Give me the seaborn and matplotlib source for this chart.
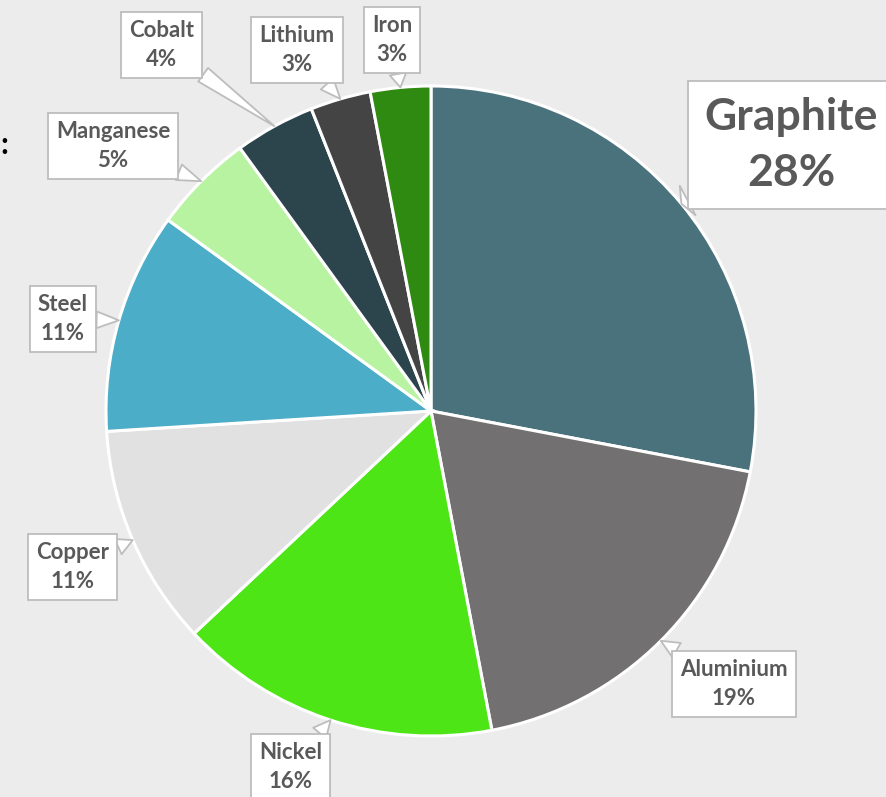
import numpy as np
import matplotlib
matplotlib.use("Agg")
import matplotlib.pyplot as plt
import seaborn as sns

# ---- data ----
materials = ["Graphite", "Aluminium", "Nickel", "Copper", "Steel",
             "Manganese", "Cobalt", "Lithium", "Iron"]
shares = [28, 19, 16, 11, 11, 5, 4, 3, 3]
colors = ["#4A727C", "#737071", "#4DE516", "#E1E1E1", "#4BADC7",
          "#B7F3A1", "#2C444C", "#444444", "#2F8A11"]

# ---- layout (pixel positions of label box centres) ----
W, H = 886, 797
CX, CY, R = 431, 411, 325
label_pos = {
    "Graphite": (791, 145),
    "Aluminium": (734, 684),
    "Nickel": (291, 767),
    "Copper": (73, 567),
    "Steel": (63, 319),
    "Manganese": (113, 146),
    "Cobalt": (162, 45),
    "Lithium": (297, 50),
    "Iron": (392, 40),
}

sns.set_theme(style="white")
plt.rcParams["font.family"] = ["Lato", "DejaVu Sans"]

fig = plt.figure(figsize=(W / 100, H / 100), dpi=100)
bg = "#ECECEC"
fig.patch.set_facecolor(bg)
ax = fig.add_axes([0, 0, 1, 1])
ax.set_facecolor(bg)

wedges, _ = ax.pie(shares, colors=colors, startangle=90, counterclock=False,
                   center=(CX, H - CY), radius=R,
                   wedgeprops=dict(edgecolor="white", linewidth=2.2),
                   frame=True)
ax.set_xlim(0, W)
ax.set_ylim(0, H)
ax.set_aspect("equal")
ax.axis("off")

txt_color = "#595959"
for w, name, val in zip(wedges, materials, shares):
    mid = np.deg2rad((w.theta1 + w.theta2) / 2)
    tip = (CX + R * np.cos(mid), H - CY + R * np.sin(mid))
    px, py = label_pos[name]
    big = name == "Graphite"
    fs = 32 if big else 16
    ax.annotate(f"{name}\n{val}%", xy=tip, xytext=(px, H - py),
                textcoords="data", ha="center", va="center",
                fontsize=fs, fontweight="bold", color=txt_color,
                linespacing=1.5,
                bbox=dict(boxstyle="square,pad=0.36", fc="white",
                          ec="#BDBDBD", lw=1.3),
                arrowprops=dict(arrowstyle="wedge,tail_width=0.75,shrink_factor=0.5",
                                fc="white", ec="#BDBDBD", lw=1.3,
                                shrinkA=0, shrinkB=0),
                zorder=5, annotation_clip=False)

ax.text(0, H - 145, ":", fontsize=22, fontweight="bold", color="black",
        ha="left", va="center")

fig.savefig("out.png", dpi=100, facecolor=bg)
